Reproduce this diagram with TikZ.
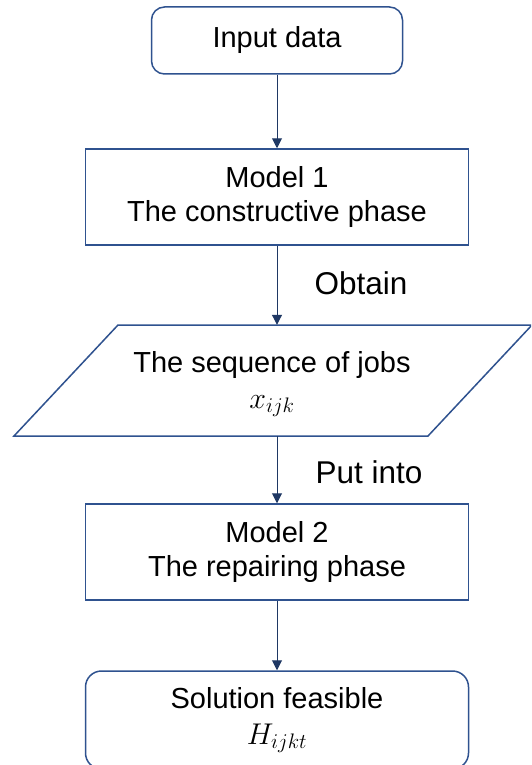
\RequirePackage{fix-cm}
\documentclass[tikz,border=0pt]{standalone}
\usepackage{fontspec}
\setmainfont{Liberation Sans}
\usetikzlibrary{arrows.meta}
\definecolor{bordc}{HTML}{2F528F}
\definecolor{arrc}{HTML}{1F3864}
\newcommand{\mathbig}[1]{{\fontsize{30}{34}\selectfont$#1$}}
\begin{document}
\begin{tikzpicture}[x=1pt,y=-1pt,
  every node/.style={font=\fontsize{29}{34}\selectfont, text=black},
  box/.style={draw=bordc, line width=1.5pt, fill=white, minimum width=383pt, minimum height=96pt, align=center, inner sep=0pt},
  rbox/.style={box, rounded corners=13pt},
  arr/.style={draw=arrc, line width=1pt, -{Triangle[width=10pt,length=10pt]}},
  lbl/.style={inner sep=0pt},
  biglbl/.style={inner sep=0pt, font=\fontsize{31.5}{36}\selectfont},
  para/.style={draw=bordc, line width=1.5pt, fill=white}]
\useasboundingbox (0,0) rectangle (531,765);
\clip (0,0) rectangle (531,765);
\fill[white] (0,0) rectangle (531,765);
\node[rbox, minimum width=251pt, minimum height=67pt] (in) at (277,40.5) {Input data};
\node[box] (m1) at (277,197) {Model 1\\The constructive phase};
\draw[para] (118,325) -- (532,325) -- (428,436) -- (14,436) -- cycle;
\node[lbl, minimum width=300pt, minimum height=111pt] (seq) at (277,380.5) {};
\node[lbl, align=center] (seqtxt) at (272,384) {The sequence of jobs\\[2pt]\mathbig{x_{ijk}}};
\node[box] (m2) at (277,552) {Model 2\\The repairing phase};
\node[rbox, minimum height=98pt, rounded corners=16pt] (sol) at (277,720) {Solution feasible\\[2pt]\mathbig{H_{ijkt}}};
\draw[arr] (in) -- (m1);
\draw[arr] (m1) -- (seq);
\draw[arr] (seq) -- (m2);
\draw[arr] (m2) -- (sol);
\node[biglbl] (obtain) at (361,283) {Obtain};
\node[biglbl] (putinto) at (369,472) {Put into};
\end{tikzpicture}
\end{document}
